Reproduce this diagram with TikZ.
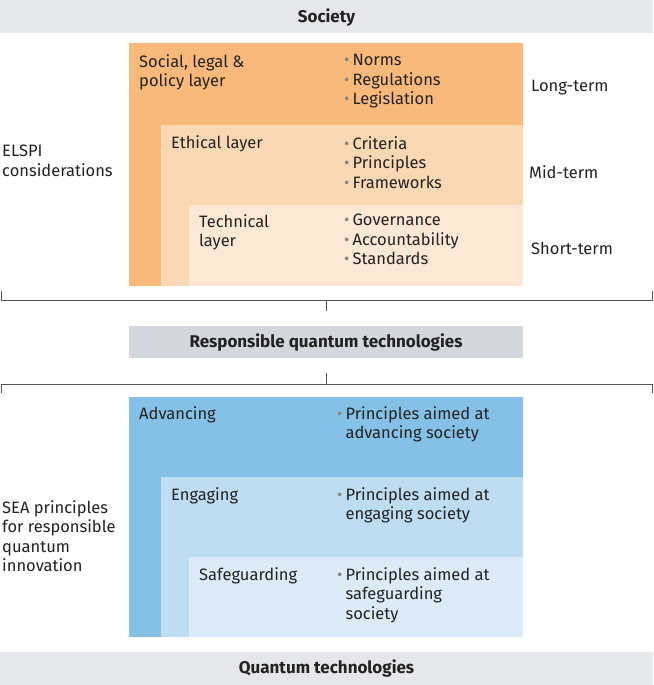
\documentclass[tikz,border=0pt]{standalone}
\usepackage{fontspec}
\setmainfont{Fira Sans}
\definecolor{barg}{HTML}{E6E7EA}
\definecolor{rqt}{HTML}{D5D7DF}
\definecolor{o1}{HTML}{F9B97A}
\definecolor{o2}{HTML}{FBD8B4}
\definecolor{o3}{HTML}{FDE8D5}
\definecolor{b1}{HTML}{85C1E6}
\definecolor{b2}{HTML}{BEDDF2}
\definecolor{b3}{HTML}{DCEBF7}
\definecolor{txt}{HTML}{222222}
\definecolor{bul}{HTML}{888888}
\definecolor{ln}{HTML}{555555}
\newcommand{\bu}{{\color{bul}\textbullet}\hspace{3pt}}
\begin{document}
\begin{tikzpicture}[x=1pt,y=-1pt,
  lab/.style={anchor=north west,align=left,inner sep=0pt,font=\fontsize{16.5}{19.5}\selectfont\fontseries{l}\selectfont,text=txt},
  bar/.style={anchor=center,font=\fontsize{17}{18}\selectfont\fontseries{sb}\selectfont,text=txt},
  brk/.style={draw=ln,line width=0.8pt}]
\useasboundingbox (0,0) rectangle (653,685);
\fill[barg] (0,0) rectangle (653,33);
\node[bar] (soc) at (326.5,17) {Society};
\fill[o1] (129,43) rectangle (523,286);
\fill[o2] (161,125) rectangle (523,286);
\fill[o3] (189,205) rectangle (523,286);
\node[lab] (l1) at (139,54) {Social, legal \&\\policy layer};
\node[lab] (l2) at (171,135) {Ethical layer};
\node[lab] (l3) at (199,214) {Technical\\layer};
\node[lab] (b1) at (344,54) {\bu Norms\\\bu Regulations\\\bu Legislation};
\node[lab] (b2) at (344,136) {\bu Criteria\\\bu Principles\\\bu Frameworks};
\node[lab] (b3) at (344,214) {\bu Governance\\\bu Accountability\\\bu Standards};
\node[lab] (t1) at (531,80) {Long-term};
\node[lab] (t2) at (529,165) {Mid-term};
\node[lab] (t3) at (531,242) {Short-term};
\node[lab] (el) at (2,145) {ELSPI\\considerations};
\coordinate (a1) at (1,291); \coordinate (a2) at (1,300);
\coordinate (a3) at (652,300); \coordinate (a4) at (652,291);
\coordinate (c1) at (326.5,300); \coordinate (c2) at (326.5,311);
\draw[brk] (a1)--(a2)--(a3)--(a4);
\draw[brk] (c1)--(c2);
\fill[rqt] (129,326) rectangle (523,358);
\node[bar] (rq) at (326,342) {Responsible quantum technologies};
\coordinate (d1) at (1,393); \coordinate (d2) at (1,384);
\coordinate (d3) at (652,384); \coordinate (d4) at (652,393);
\coordinate (e1) at (326.5,384); \coordinate (e2) at (326.5,373);
\draw[brk] (d1)--(d2)--(d3)--(d4);
\draw[brk] (e1)--(e2);
\fill[b1] (129,397) rectangle (523,637);
\fill[b2] (161,477) rectangle (523,637);
\fill[b3] (189,557) rectangle (523,637);
\node[lab] (s1) at (139,406) {Advancing};
\node[lab] (s2) at (171,487) {Engaging};
\node[lab] (s3) at (199,567) {Safeguarding};
\node[lab] (p1) at (337,406) {\bu Principles aimed at\\\hphantom{\bu}advancing society};
\node[lab] (p2) at (337,487) {\bu Principles aimed at\\\hphantom{\bu}engaging society};
\node[lab] (p3) at (337,567) {\bu Principles aimed at\\\hphantom{\bu}safeguarding\\\hphantom{\bu}society};
\node[lab] (sea) at (2,500) {SEA principles\\for responsible\\quantum\\innovation};
\fill[barg] (0,652) rectangle (653,685);
\node[bar] (qt) at (326.5,668) {Quantum technologies};
\end{tikzpicture}
\end{document}
